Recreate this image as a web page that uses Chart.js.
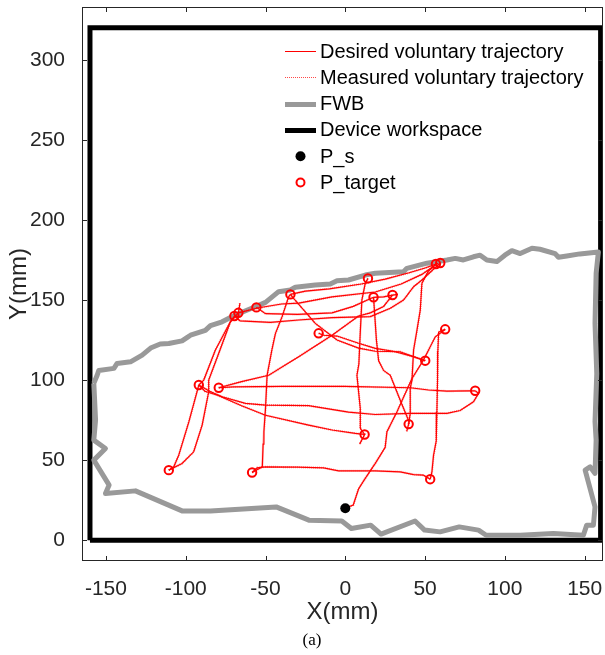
<!DOCTYPE html>
<html>
<head>
<meta charset="utf-8">
<script src="https://cdn.jsdelivr.net/npm/chart.js@4.4.1/dist/chart.umd.min.js"></script>
<style>
  html, body { margin: 0; padding: 0; background: #fff; }
</style>
</head>
<body>
<canvas id="trajChart" width="605" height="655"></canvas>
<script>
// start point and reach targets (mm)
const startPoint = [0, 20];
const targetX = [-110.6, -91.8, -79.3, -58.4, -69.5, -67, -55.7, -34.4, -16.7, 12.1,
                 14.2, 17.7, 29.6, 39.7, 50.1, 62.6, 81.4, 53.2, 56.8, 59.5];
const targetY = [43.75, 96.9, 95.2, 42.3, 140, 142, 145.4, 153.5, 129.2, 66,
                 163.5, 151.7, 153.1, 72.5, 112.1, 131.7, 93.3, 38.1, 172.5, 173.1];

// voluntary movements, one polyline per reach [x, y]
const trajectories = [
  [[0,20],[5,22],[8.3,32],[12.5,38.6],[18.8,48],[25,58],[26.1,67.7],[32.4,80.2],[41.8,101],[49,112.5],[56.4,127],[60.5,130],[62.6,131.7]],
  [[62.6,131.7],[58.5,130],[58,118],[57.8,100],[57.4,80],[57,62],[55.3,53],[54.3,42.7],[53.2,38.1]],
  [[53.2,38.1],[49,40.6],[42.8,41],[34.4,42.7],[18.8,43.3],[-4.2,43.3],[-13.6,45.2],[-30,45.6],[-50,45.8],[-55.3,45.2],[-58.4,42.3]],
  [[-58.4,42.3],[-52,45.8],[-51.5,60],[-51,67.7],[-50,82.3],[-49,103],[-46,118.8],[-43.8,129],[-39.6,139.6],[-35.5,152],[-34.4,153.5]],
  [[-34.4,153.5],[-32.4,151],[-18.8,135.4],[-5.2,125],[8.3,120],[18.8,118],[34.4,117.7],[42.8,114.6],[50.1,112.1]],
  [[-16.7,129.2],[-13.6,128],[-5.2,127.5],[8.3,123],[18.8,119.8],[30,118],[42.8,114.6],[50.1,112.1]],
  [[17.7,151.7],[18.5,140],[19.5,125],[20.9,112],[24,106],[28.2,103],[35,86],[40,74],[39.7,72.5],[38.5,68]],
  [[39.7,72.5],[40.7,79.2],[40.7,95],[41.8,100],[42.8,118.8],[44.9,131],[47,143.8],[48,160.4],[52,168],[57,172.5]],
  [[-91.8,96.9],[-85,93],[-77.2,89.6],[-62.6,85.4],[-50,84.4],[-23,84],[2,80],[18.8,78.5],[40.7,79.2],[63.7,79.2],[72,81],[80.3,86.4],[83.5,91.7],[81.4,93.3]],
  [[-79.3,95.2],[-70,95.8],[-40,96],[0,96],[40.7,95.2],[52.2,93.8],[63.7,93.1],[78.3,93.3],[81.4,93.3]],
  [[-91.8,96.9],[-88,93],[-80,90.5],[-65,84],[-50,78],[-23,71.9],[-8.3,68.8],[6.3,66.7],[12.1,66],[9,60]],
  [[-110.6,43.75],[-107.5,45.8],[-104.4,53],[-98,74],[-91.8,96.9]],
  [[-110.6,43.75],[-102.3,47.9],[-95,55.2],[-89.7,71.9],[-85.6,92.7],[-85.6,100],[-79.3,116.7],[-72,136.4],[-69.5,140]],
  [[-91.8,96.9],[-88.7,100],[-81.4,118.8],[-72,136.4],[-67,142],[-66,148]],
  [[-79.3,95.2],[-65,99],[-48,103],[-29.2,114.6],[-8.3,128],[8.3,140],[15.7,142],[24,146],[29.6,153.1]],
  [[14.2,163.5],[12.5,160.4],[10.4,150],[9.4,130],[8.5,110],[7.3,103],[9.4,82.3],[9.4,69.8],[12.1,66]],
  [[17.7,151.7],[24,152],[29.6,153.1],[33,153.5]],
  [[57,172.5],[50,170],[40,167],[25,163],[10,160],[-10,157],[-25,155.5],[-34.4,153.5]],
  [[-67,142],[-55,145],[-40,147.5],[-29.2,148],[-8.3,152],[18.8,155],[35,160],[48,166],[58,173]],
  [[-69.5,140],[-66,137],[-56.4,136.5],[-47,136],[-29.2,137.5],[-8.3,139],[15.7,139.6],[28.2,144.8],[36.5,150],[42.8,158.3],[48,162.5],[59.5,173.1]],
  [[-55.7,145.4],[-50,141.5],[-30,141],[-8.3,142],[5,146],[17.7,151.7]]
];

// functional workspace boundary (closed outline)
const fwb = [
  [-157.6,98],[-155.5,103],[-154.5,106],[-145,107.3],[-143,110.4],[-134.6,111.4],[-127.3,115.6],[-122,120],
  [-116,122.5],[-110.6,122.8],[-102.3,124.5],[-99,126.7],[-97,128],[-87.7,131],[-84.5,134],[-77.2,136.4],
  [-68.9,140.6],[-56.4,145.8],[-50,148.5],[-41.8,155.2],[-34.4,156.3],[-31.3,158],[-18.8,159.4],[-9.4,160],
  [-5.2,162],[2,162.5],[12.5,165.6],[18.8,166.7],[36.5,167.7],[38.6,169.8],[51.2,173],[63.7,175],[68.9,176],
  [74,175],[80.3,177],[84.5,178],[88.7,175],[95,174],[100,178],[104.4,180.8],[109.6,179],[117,182.3],
  [122,181.7],[131.5,179],[133.6,176.7],[138.8,177.5],[147,178.8],[158.6,180],
  [157.2,166.7],[156.5,135.4],[157.6,104],[156.5,74],[157.2,62.5],[156.5,41.7],[153.4,45.8],[150.3,43.8],
  [156.5,20.8],[155.5,9.4],[151.3,9.4],[149.2,3.1],[130.4,4.2],[109.6,3.1],[88.3,3.1],[83.5,6.3],[71.4,8.3],
  [59.4,5.2],[49.7,6.3],[43.7,12],[22.4,3.8],[15.9,9.4],[3.8,7.3],[-2.2,12],[-22.8,12.5],[-43.3,20.8],
  [-84.5,18.3],[-102.3,18.3],[-131.5,30.8],[-150.3,29.2],[-148,34.4],[-157.6,50],[-150.3,57.3],[-157.6,62.5],
  [-156.5,75],[-157.6,98]
];

// device workspace limits
const deviceX = [-160, 160];
const deviceY = [0, 320];

const xTickStep = 50;
const yTickStep = 50;

const toPts = arr => arr.map(p => ({ x: p[0], y: p[1] }));

const datasets = [];

datasets.push({
  label: 'P_target',
  data: targetX.map((x, i) => ({ x: x, y: targetY[i] })),
  showLine: false,
  pointRadius: 4.2,
  pointBorderWidth: 2,
  pointBorderColor: '#ff0000',
  pointBackgroundColor: 'rgba(0,0,0,0)',
  order: 0
});
datasets.push({
  label: 'P_s',
  data: [{ x: startPoint[0], y: startPoint[1] }],
  showLine: false,
  pointRadius: 5,
  pointBorderWidth: 0,
  pointBackgroundColor: '#000',
  order: 1
});
trajectories.forEach((t, i) => {
  datasets.push({
    label: i === 0 ? 'Desired voluntary trajectory' : '',
    data: toPts(t),
    showLine: true,
    borderColor: '#ff0000',
    borderWidth: 1.2,
    pointRadius: 0,
    tension: 0,
    order: 2
  });
  datasets.push({
    label: i === 0 ? 'Measured voluntary trajectory' : '',
    data: toPts(t),
    showLine: true,
    borderColor: 'rgba(255,40,40,0.55)',
    borderWidth: 2.2,
    borderDash: [1, 1],
    pointRadius: 0,
    tension: 0,
    order: 3
  });
});
datasets.push({
  label: 'FWB',
  data: toPts(fwb),
  showLine: true,
  borderColor: '#999999',
  borderWidth: 5,
  borderJoinStyle: 'round',
  pointRadius: 0,
  order: 4
});
datasets.push({
  label: 'Device workspace',
  data: [
    { x: deviceX[0], y: deviceY[0] }, { x: deviceX[0], y: deviceY[1] },
    { x: deviceX[1], y: deviceY[1] }, { x: deviceX[1], y: deviceY[0] },
    { x: deviceX[0], y: deviceY[0] }
  ],
  showLine: true,
  borderColor: '#000',
  borderWidth: 5,
  borderJoinStyle: 'miter',
  pointRadius: 0,
  order: 5
});

const FONT = '"Liberation Sans", Arial, Helvetica, sans-serif';

// axes box with inward ticks on all four sides
const frameTicks = {
  id: 'frameTicks',
  afterDraw(chart) {
    const { ctx, chartArea: a, scales } = chart;
    ctx.save();
    ctx.strokeStyle = '#262626';
    ctx.lineWidth = 1;
    ctx.strokeRect(a.left + 0.5, a.top + 0.5, a.right - a.left - 1, a.bottom - a.top - 1);
    ctx.beginPath();
    scales.x.ticks.forEach(t => {
      const px = Math.round(scales.x.getPixelForValue(t.value)) + 0.5;
      ctx.moveTo(px, a.bottom); ctx.lineTo(px, a.bottom - 5);
      ctx.moveTo(px, a.top); ctx.lineTo(px, a.top + 5);
    });
    scales.y.ticks.forEach(t => {
      const py = Math.round(scales.y.getPixelForValue(t.value)) + 0.5;
      ctx.moveTo(a.left, py); ctx.lineTo(a.left + 5, py);
      ctx.moveTo(a.right, py); ctx.lineTo(a.right - 5, py);
    });
    ctx.stroke();
    ctx.restore();
  }
};

// axis titles, caption and legend
const labelsLegend = {
  id: 'labelsLegend',
  afterDraw(chart) {
    const { ctx, chartArea: a } = chart;
    ctx.save();
    ctx.fillStyle = '#262626';
    ctx.font = '24px ' + FONT;
    ctx.textAlign = 'center';
    ctx.textBaseline = 'middle';
    ctx.fillText('X(mm)', (a.left + a.right) / 2, 612);
    ctx.save();
    ctx.translate(19, (a.top + a.bottom) / 2);
    ctx.rotate(-Math.PI / 2);
    ctx.fillText('Y(mm)', 0, 0);
    ctx.restore();

    ctx.fillStyle = '#000';
    ctx.font = '17px "Liberation Serif", "Times New Roman", serif';
    ctx.fillText('(a)', 312, 641);

    // legend entries
    const x0 = 285, x1 = 316, tx = 320, y0 = 51, dy = 26.3;
    const rows = [
      { text: 'Desired voluntary trajectory', kind: 'line', color: '#ff0000', w: 1 },
      { text: 'Measured voluntary trajectory', kind: 'dots', color: 'rgba(255,40,40,0.85)', w: 1 },
      { text: 'FWB', kind: 'line', color: '#999999', w: 5 },
      { text: 'Device workspace', kind: 'line', color: '#000', w: 5 },
      { text: 'P_s', kind: 'dot' },
      { text: 'P_target', kind: 'ring' }
    ];
    ctx.font = '20px ' + FONT;
    ctx.textAlign = 'left';
    rows.forEach((r, i) => {
      const yy = y0 + i * dy;
      const mid = (x0 + x1) / 2;
      if (r.kind === 'line' || r.kind === 'dots') {
        const ly = Math.round(yy) + (r.w % 2 ? 0.5 : 0);
        ctx.beginPath();
        ctx.strokeStyle = r.color;
        ctx.lineWidth = r.w;
        ctx.setLineDash(r.kind === 'dots' ? [1, 1] : []);
        ctx.moveTo(x0, ly);
        ctx.lineTo(x1, ly);
        ctx.stroke();
        ctx.setLineDash([]);
      } else if (r.kind === 'dot') {
        ctx.beginPath();
        ctx.fillStyle = '#000';
        ctx.arc(mid, yy, 5, 0, Math.PI * 2);
        ctx.fill();
      } else {
        ctx.beginPath();
        ctx.strokeStyle = '#ff0000';
        ctx.lineWidth = 2;
        ctx.arc(mid, yy, 4, 0, Math.PI * 2);
        ctx.stroke();
      }
      ctx.fillStyle = '#000';
      ctx.fillText(r.text, tx, yy + 1);
    });
    ctx.restore();
  }
};

new Chart(document.getElementById('trajChart'), {
  type: 'scatter',
  data: { datasets: datasets },
  options: {
    responsive: false,
    animation: false,
    devicePixelRatio: 1,
    layout: { autoPadding: false, padding: { top: 7, right: 2, left: 0, bottom: 0 } },
    plugins: {
      legend: { display: false },
      tooltip: { enabled: false }
    },
    scales: {
      x: {
        type: 'linear',
        min: -165,
        max: 161.5,
        grid: { display: false },
        border: { display: false },
        ticks: {
          stepSize: xTickStep,
          includeBounds: false,
          color: '#262626',
          padding: 8,
          maxRotation: 0,
          font: { family: FONT, size: 21 }
        },
        afterFit(scale) {
          scale.height = 94;
          scale.paddingLeft = 0;
          scale.paddingRight = 0;
        }
      },
      y: {
        type: 'linear',
        min: -13,
        max: 333,
        grid: { display: false },
        border: { display: false },
        ticks: {
          stepSize: yTickStep,
          includeBounds: false,
          color: '#262626',
          padding: 9,
          font: { family: FONT, size: 21 }
        },
        afterFit(scale) {
          scale.width = 82;
          scale.paddingTop = 0;
          scale.paddingBottom = 0;
        }
      }
    }
  },
  plugins: [frameTicks, labelsLegend]
});
</script>
</body>
</html>
